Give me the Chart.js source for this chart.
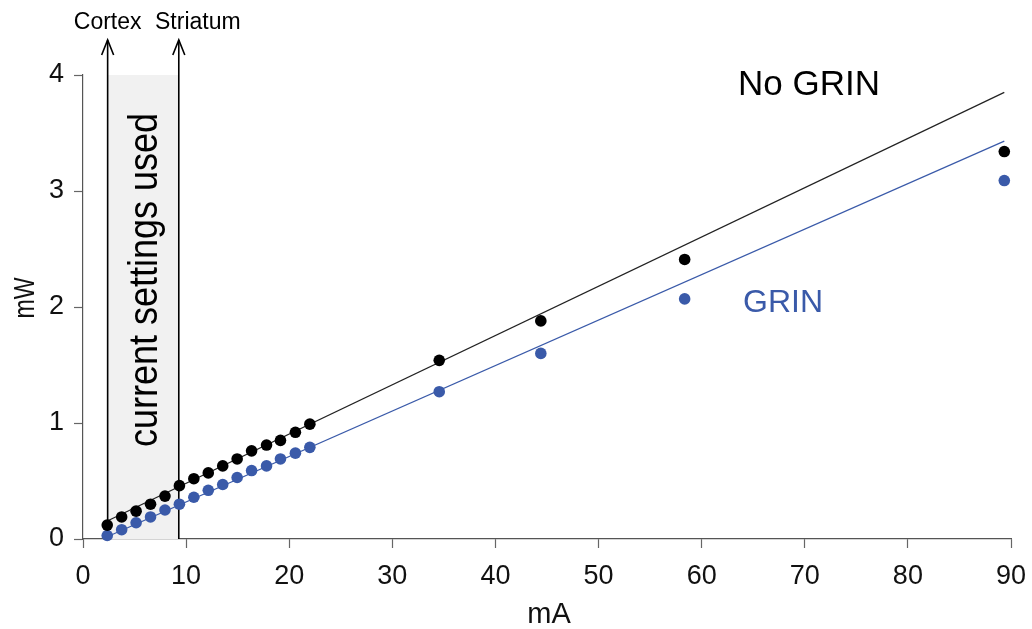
<!DOCTYPE html>
<html>
<head>
<meta charset="utf-8">
<script src="https://cdn.jsdelivr.net/npm/chart.js@4.4.1/dist/chart.umd.min.js"></script>
<style>
  html, body { margin: 0; padding: 0; background: #fff; }
  #wrap { width: 1032px; height: 629px; }
</style>
</head>
<body>
<div id="wrap"><canvas id="c" width="1032" height="629"></canvas></div>
<script>
// ---- data ----
const currentMA = [2.35, 3.75, 5.15, 6.55, 7.95, 9.35, 10.75, 12.15, 13.55, 14.95, 16.35, 17.8, 19.15, 20.6, 22.0, 34.55, 44.4, 58.35, 89.35];
const noGrinMW  = [0.12, 0.19, 0.24, 0.30, 0.37, 0.46, 0.52, 0.57, 0.63, 0.69, 0.76, 0.81, 0.85, 0.92, 0.99, 1.54, 1.88, 2.41, 3.34];
const grinMW    = [0.03, 0.08, 0.14, 0.19, 0.25, 0.30, 0.36, 0.42, 0.47, 0.53, 0.59, 0.63, 0.69, 0.74, 0.79, 1.27, 1.60, 2.07, 3.09];
const fitMA        = [2.35, 89.35];
const noGrinFitMW  = [0.155, 3.85];
const grinFitMW    = [0.02, 3.43];
const settingsMA   = [2.39, 9.29];      // Cortex, Striatum current settings
const settingsTopMW = 4;
const xTicks = [0, 10, 20, 30, 40, 50, 60, 70, 80, 90];
const yTicks = [0, 1, 2, 3, 4];

const BLUE = '#3a5aa9';
const FONT = "'Liberation Sans', Arial, Helvetica, sans-serif";

const pts = (xs, ys) => xs.map((x, i) => ({ x: x, y: ys[i] }));

function txt(ctx, s, x, y, size, color, align, rot, sx) {
  ctx.save();
  ctx.translate(x, y);
  if (rot) ctx.rotate(rot);
  if (sx) ctx.scale(sx, 1);
  ctx.font = size + 'px ' + FONT;
  ctx.fillStyle = color;
  ctx.textAlign = align || 'left';
  ctx.textBaseline = 'alphabetic';
  ctx.fillText(s, 0, 0);
  ctx.restore();
}

const decor = {
  id: 'decor',
  beforeDatasetsDraw(chart) {
    const { ctx, scales: { x, y } } = chart;
    const x0 = x.getPixelForValue(settingsMA[0]);
    const x1 = x.getPixelForValue(settingsMA[1]);
    const yb = y.getPixelForValue(0);
    const yt = y.getPixelForValue(settingsTopMW);
    ctx.save();
    ctx.fillStyle = '#f1f1f1';
    ctx.fillRect(x0, yt, x1 - x0, yb - yt);
    // arrows
    ctx.strokeStyle = '#000';
    ctx.lineWidth = 1.6;
    settingsMA.forEach(v => {
      const px = x.getPixelForValue(v);
      ctx.beginPath();
      ctx.moveTo(px, yb);
      ctx.lineTo(px, 40);
      ctx.stroke();
      ctx.beginPath();
      ctx.moveTo(px - 6, 55);
      ctx.lineTo(px, 40);
      ctx.lineTo(px + 6, 55);
      ctx.stroke();
    });
    ctx.restore();
    txt(ctx, 'current settings used', 157, 280, 40, '#000', 'center', -Math.PI / 2, 0.9);
  },
  afterDraw(chart) {
    const { ctx, scales: { x } } = chart;
    txt(ctx, 'Cortex', x.getPixelForValue(settingsMA[0]), 29, 23, '#000', 'center');
    txt(ctx, 'Striatum', 155, 29, 23, '#000', 'left');
    txt(ctx, 'No GRIN', 738, 95, 35, '#000', 'left');
    txt(ctx, 'GRIN', 743, 312, 32, BLUE, 'left');
    txt(ctx, 'mA', 549, 623, 29, '#111', 'center');
    txt(ctx, 'mW', 34, 298, 29, '#111', 'center', -Math.PI / 2, 0.8);
  }
};

new Chart(document.getElementById('c'), {
  type: 'scatter',
  data: {
    datasets: [
      { label: 'No GRIN fit', type: 'line', data: pts(fitMA, noGrinFitMW), borderColor: '#222', borderWidth: 1.2, pointRadius: 0, fill: false, clip: false, order: 3 },
      { label: 'GRIN fit', type: 'line', data: pts(fitMA, grinFitMW), borderColor: BLUE, borderWidth: 1.2, pointRadius: 0, fill: false, clip: false, order: 4 },
      { label: 'No GRIN', data: pts(currentMA, noGrinMW), backgroundColor: '#000', borderWidth: 0, pointRadius: 5.8, clip: false, order: 1 },
      { label: 'GRIN', data: pts(currentMA, grinMW), backgroundColor: BLUE, borderWidth: 0, pointRadius: 5.8, clip: false, order: 2 }
    ]
  },
  options: {
    responsive: false,
    animation: false,
    events: [],
    layout: { padding: { top: 75, right: 21, left: 0, bottom: 0 } },
    plugins: { legend: { display: false }, tooltip: { enabled: false } },
    scales: {
      x: {
        type: 'linear', min: 0, max: 90,
        afterBuildTicks: s => { s.ticks = xTicks.map(v => ({ value: v })); },
        afterFit: s => { s.height = 90; s.paddingLeft = 0; s.paddingRight = 0; },
        grid: { drawOnChartArea: false, drawTicks: true, tickLength: 9, tickColor: '#666', tickWidth: 1.2 },
        border: { color: '#555', width: 1.2 },
        ticks: { color: '#111', font: { family: FONT, size: 27 }, padding: 12, maxRotation: 0 }
      },
      y: {
        type: 'linear', min: 0, max: 4,
        afterBuildTicks: s => { s.ticks = yTicks.map(v => ({ value: v })); },
        afterFit: s => { s.width = 83; s.paddingTop = 0; s.paddingBottom = 0; },
        grid: { drawOnChartArea: false, drawTicks: true, tickLength: 9, tickColor: '#666', tickWidth: 1.2 },
        border: { color: '#555', width: 1.2 },
        ticks: { color: '#111', font: { family: FONT, size: 27 }, padding: 10 }
      }
    }
  },
  plugins: [decor]
});
</script>
</body>
</html>
